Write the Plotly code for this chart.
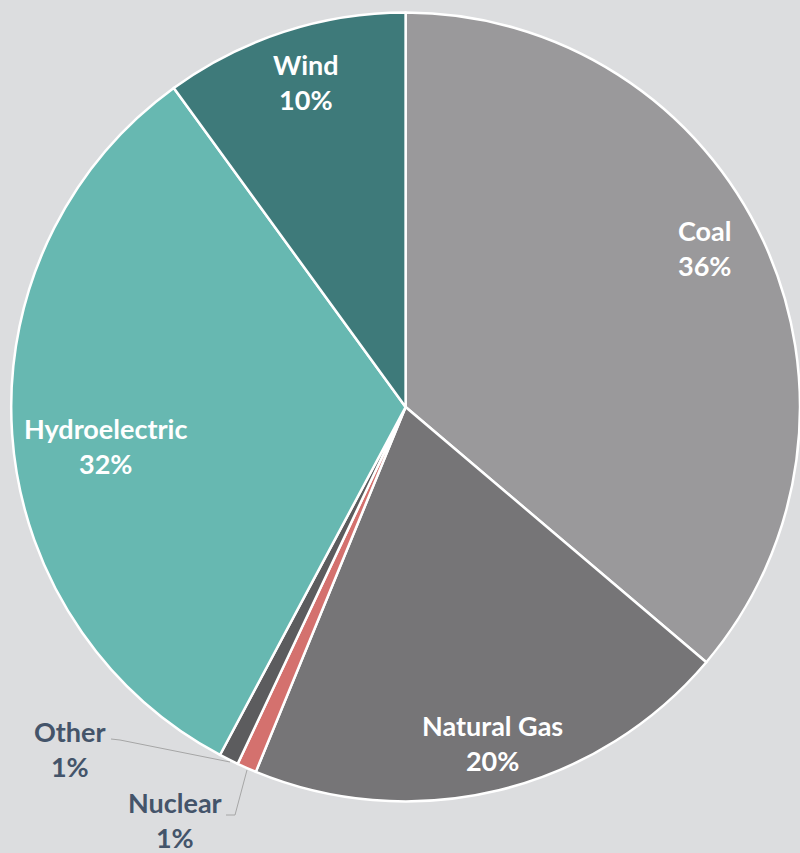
import plotly.graph_objects as go

# electricity generation mix
sources = ['Coal', 'Natural Gas', 'Nuclear', 'Other', 'Hydroelectric', 'Wind']
shares = [36.2, 20.0, 0.8, 0.8, 32.2, 10.0]
colors = ['#9a999b', '#767577', '#d4716e', '#5c5c5e', '#67b8b1', '#3e7a7a']

W, H = 800, 853
BG = '#dcdddf'
FONT = 'Lato, Open Sans, sans-serif'

# label anchor points in pixels (Excel-style placement)
label_pos = {
    'Coal': (705, 248),
    'Natural Gas': (492, 743),
    'Nuclear': (175, 820),
    'Other': (70, 749),
    'Hydroelectric': (105, 446),
    'Wind': (306, 82),
}
outside = {'Nuclear', 'Other'}

fig = go.Figure(go.Pie(
    labels=sources, values=shares,
    sort=False, direction='clockwise', rotation=0,
    marker=dict(colors=colors, line=dict(color='white', width=2.5)),
    textinfo='none', hoverinfo='label+percent',
    domain=dict(x=[0.014, 1.0], y=[(H - 802) / H, (H - 12) / H]),
    showlegend=False,
))

total = sum(shares)
for name, val in zip(sources, shares):
    px, py = label_pos[name]
    pct = round(val / total * 100)
    fig.add_annotation(
        x=px / W, y=1 - py / H, xref='paper', yref='paper',
        text=f'<b>{name}</b><br><b>{pct}%</b>', showarrow=False,
        font=dict(family=FONT, size=27, color='#44546a' if name in outside else 'white'),
        align='center', xanchor='center', yanchor='middle',
    )

def pxpath(pts):
    s = ''
    for i, (x, y) in enumerate(pts):
        s += ('M' if i == 0 else 'L') + f' {x / W} {1 - y / H} '
    return s

# leader lines for the small slices
for pts in ([(111, 739), (120, 740), (230, 762)],
            [(247, 770), (235, 815), (226, 815)]):
    fig.add_shape(type='path', path=pxpath(pts), xref='paper', yref='paper',
                  line=dict(color='#a6a6a6', width=1))

fig.update_layout(
    width=W, height=H,
    margin=dict(l=0, r=0, t=0, b=0),
    paper_bgcolor=BG, plot_bgcolor=BG,
)

fig.write_html("out.html", config={'displayModeBar': False},
               post_script="document.body.style.margin='0';")
